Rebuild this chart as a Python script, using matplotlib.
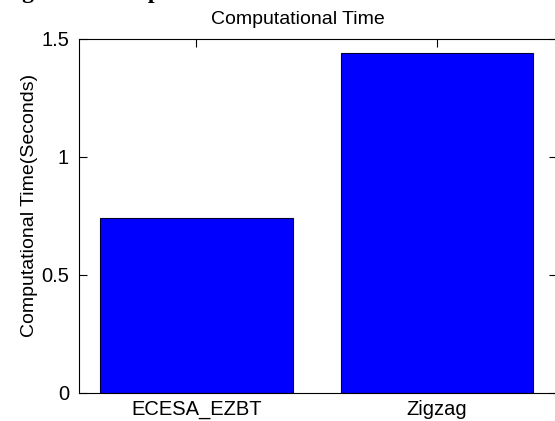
import matplotlib
matplotlib.use("Agg")
import matplotlib.pyplot as plt

categories = ["ECESA_EZBT", "Zigzag"]
times = [0.741, 1.439]
yticks = [0, 0.5, 1, 1.5]
ytick_labels = ["0", "0.5", "1", "1.5"]

W, H = 555, 421
fig = plt.figure(figsize=(W / 100, H / 100), dpi=100)
plt.rcParams['font.family'] = ['Liberation Sans', 'DejaVu Sans']

left_px, right_px = 78.7, 557.0
bottom_px, top_px = 392.7, 39.0
ax = fig.add_axes([left_px / W, (H - bottom_px) / H,
                   (right_px - left_px) / W, (bottom_px - top_px) / H])

x = [1, 2]
ax.bar(x, times, width=0.8, color='#0000ff', edgecolor='#000033', linewidth=0.8)
ax.set_axisbelow(True)

ax.set_xlim(0.51, 2.5)
ax.set_ylim(0, 1.5)
ax.set_xticks(x)
ax.set_xticklabels(categories)
ax.set_yticks(yticks)
ax.set_yticklabels(ytick_labels)

ax.tick_params(axis='both', direction='in', length=6, width=0.8, labelsize=14.5,
               top=True, right=True, colors='black')
ax.tick_params(axis='y', pad=7)
ax.tick_params(axis='x', pad=5)
for s in ax.spines.values():
    s.set_linewidth(0.8)
    s.set_color('black')

title_x = (298 - left_px) / (right_px - left_px)
ax.set_title("Computational Time", fontsize=14, pad=11, x=title_x)
ax.set_ylabel("Computational Time(Seconds)", fontsize=14)
ax.yaxis.set_label_coords((30 - left_px) / (right_px - left_px),
                          (bottom_px - 205) / (bottom_px - top_px))
ax.yaxis.label.set_va('center')

fig.text(1 / W, 1 + 2 / H, "Figure 4: Comparison", family=['Liberation Serif'],
         fontweight='bold', fontsize=17, ha='left', va='baseline')

fig.savefig("out.png", dpi=100)
